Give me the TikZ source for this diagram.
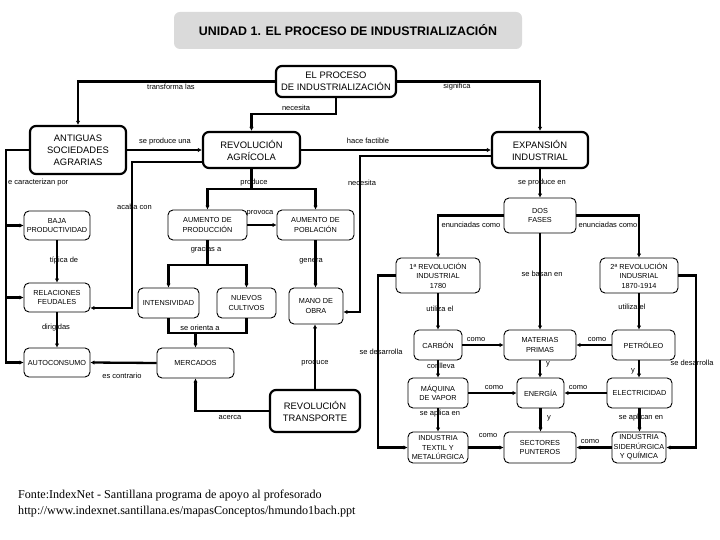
\documentclass[tikz,border=0pt]{standalone}
\usepackage{fontspec}
\setmainfont{Liberation Sans}
\newfontfamily\footfont{Liberation Serif}
\usetikzlibrary{arrows.meta,calc}
\definecolor{titlegray}{RGB}{218,218,218}
\begin{document}
\begin{tikzpicture}[x=1pt,y=-1pt,
  box/.style={draw, rounded corners=5pt, line width=0.9pt, align=center, inner sep=0pt, font=\fontsize{7.3}{9.5}\selectfont},
  bigbox/.style={draw, rounded corners=6pt, line width=2.2pt, align=center, inner sep=0pt, font=\fontsize{9.4}{12}\selectfont},
  conn/.style={line width=2.3pt},
  arr/.style={conn, -{Latex[length=4pt,width=4.5pt]}},
  lbl/.style={font=\fontsize{7.5}{9}\selectfont, inner sep=0pt}
]
\useasboundingbox[fill=white] (0,0) rectangle (720,540);

% title
\node[fill=titlegray, rounded corners=6pt, minimum width=348pt, minimum height=37pt, inner sep=0pt,
      font=\bfseries\fontsize{12.4}{14}\selectfont] (title) at (348,30.5) {UNIDAD 1. EL PROCESO DE INDUSTRIALIZACIÓN};

% thick boxes
\node[bigbox, minimum width=120pt, minimum height=31pt] (proc) at (336,81.5) {EL PROCESO\\DE INDUSTRIALIZACIÓN};
\node[bigbox, minimum width=96pt, minimum height=48pt] (ant) at (78,150) {ANTIGUAS\\SOCIEDADES\\AGRARIAS};
\node[bigbox, minimum width=97pt, minimum height=36pt] (ragr) at (251.5,150) {REVOLUCIÓN\\AGRÍCOLA};
\node[bigbox, minimum width=96pt, minimum height=36pt] (exp) at (540,150) {EXPANSIÓN\\INDUSTRIAL};
\node[bigbox, minimum width=90pt, minimum height=42pt] (rtra) at (315,411) {REVOLUCIÓN\\TRANSPORTE};

% thin boxes
\node[box, minimum width=72pt, minimum height=35pt] (dos) at (540,215.5) {DOS\\FASES};
\node[box, minimum width=79pt, minimum height=30pt] (aprod) at (207.5,225) {AUMENTO DE\\PRODUCCIÓN};
\node[box, minimum width=77pt, minimum height=30pt] (apob) at (315.5,225) {AUMENTO DE\\POBLACIÓN};
\node[box, minimum width=66pt, minimum height=29pt] (baja) at (57,225.5) {BAJA\\PRODUCTIVIDAD};
\node[box, minimum width=66pt, minimum height=29pt] (rel) at (57,297.5) {RELACIONES\\FEUDALES};
\node[box, minimum width=66pt, minimum height=29pt] (auto) at (57,362.5) {AUTOCONSUMO};
\node[box, minimum width=61pt, minimum height=30pt] (int) at (168.5,303) {INTENSIVIDAD};
\node[box, minimum width=59pt, minimum height=30pt] (nue) at (246.5,303) {NUEVOS\\CULTIVOS};
\node[box, minimum width=54pt, minimum height=36pt] (mano) at (316,306) {MANO DE\\OBRA};
\node[box, minimum width=77pt, minimum height=30pt] (merc) at (195.5,363) {MERCADOS};
\node[box, minimum width=84pt, minimum height=35pt] (r1) at (438,275.5) {1ª REVOLUCIÓN\\INDUSTRIAL\\1780};
\node[box, minimum width=78pt, minimum height=35pt] (r2) at (639,275.5) {2ª REVOLUCIÓN\\INDUSRIAL\\1870-1914};
\node[box, minimum width=48pt, minimum height=30pt] (carb) at (438,345) {CARBÓN};
\node[box, minimum width=72pt, minimum height=30pt] (mat) at (540,345) {MATERIAS\\PRIMAS};
\node[box, minimum width=63pt, minimum height=30pt] (pet) at (643.5,345) {PETRÓLEO};
\node[box, minimum width=60pt, minimum height=30pt] (maq) at (438,393) {MÁQUINA\\DE VAPOR};
\node[box, minimum width=47pt, minimum height=30pt] (ene) at (540.5,393) {ENERGÍA};
\node[box, minimum width=65pt, minimum height=30pt] (ele) at (639.5,393) {ELECTRICIDAD};
\node[box, minimum width=60pt, minimum height=31pt] (tex) at (438,447.5) {INDUSTRIA\\TEXTIL Y\\METALÚRGICA};
\node[box, minimum width=72pt, minimum height=31pt] (sec) at (540,447.5) {SECTORES\\PUNTEROS};
\node[box, minimum width=54pt, minimum height=31pt] (sid) at (639,447.5) {INDUSTRIA\\SIDERÚRGICA\\Y QUÍMICA};

% connectors
\draw[arr] (proc.west) -| (ant.north);
\draw[arr] (proc.east) -| (exp.north);
\draw[arr] (proc.south) -- (proc.south |- 0,114) -| (ragr.north);
\draw[arr] (ant.east) -- (ragr.west);
\draw[arr] (ragr.east) -- (exp.west);
\draw[arr] ([yshift=-6pt]exp.west) -| (360,312) -- (mano.east |- 0,312);
\draw[arr] (exp.south) -- (dos.north);
\coordinate (pj) at (ragr.south |- 0,189);
\draw[conn] (ragr.south) -- (pj);
\draw[arr] (pj) -| (aprod.north);
\draw[arr] (pj) -| (apob.north);
\draw[arr] (aprod.east) -- (apob.west);
\draw[arr] (ant.west) -- (ant.west -| 6,0) |- (auto.west);
\draw[arr] (baja.west -| 6,0) -- (baja.west);
\draw[arr] (rel.west -| 6,0) -- (rel.west);
\draw[arr] (baja.south) -- (rel.north);
\draw[arr] (rel.south) -- (auto.north);
\draw[arr] ([yshift=-12pt]ragr.west) -| (132,308) -- (rel.east |- 0,308);
\coordinate (gj) at (aprod.south |- 0,265);
\draw[conn] (aprod.south) -- (gj);
\draw[arr] (gj) -| (int.north);
\draw[arr] (gj) -| (nue.north);
\draw[conn] (int.south) |- (nue.south |- 0,333) -- (nue.south);
\draw[arr] (merc.north |- 0,333) -- (merc.north);
\draw[arr] (merc.west) -- (auto.east);
\draw[arr] (apob.south) -- (apob.south |- mano.north);
\draw[arr] (rtra.north) -- (rtra.north |- mano.south);
\draw[arr] (rtra.west) -| (merc.south);
\draw[arr] (dos.west) -| (r1.north);
\draw[arr] (dos.east) -| (r2.north);
\draw[arr] (dos.south) -- (mat.north);
\draw[arr] (r1.south) -- (carb.north);
\draw[arr] (r2.south) -- (r2.south |- pet.north);
\draw[arr] (carb.east) -- (mat.west);
\draw[arr] (pet.west) -- (mat.east);
\draw[arr] (r1.west) -| (378,447.5) -- (tex.west);
\draw[arr] (r2.east) -| (696,447.5) -- (sid.east);
\draw[arr] (carb.south) -- (maq.north);
\draw[arr] (mat.south) -- (mat.south |- ene.north);
\draw[arr] (r2.south |- pet.south) -- (r2.south |- ele.north);
\draw[arr] (maq.east) -- (ene.west);
\draw[arr] (ele.west) -- (ene.east);
\draw[arr] (maq.south) -- (tex.north);
\draw[arr] (ene.south) -- (ene.south |- sec.north);
\draw[arr] (ele.south) -- (ele.south |- sid.north);
\draw[arr] (tex.east) -- (sec.west);
\draw[arr] (sid.west) -- (sec.east);

% labels
\node[lbl] (l1) at (171,87) {transforma las};
\node[lbl] (l2) at (457,87) {significa};
\node[lbl] (l3) at (296,108) {necesita};
\node[lbl] (l4) at (165,142) {se produce una};
\node[lbl] (l5) at (368,141) {hace factible};
\node[lbl] (l6) at (362,183) {necesita};
\node[lbl] (l7) at (542,183) {se produce en};
\node[lbl] (l8) at (254,183) {produce};
\node[lbl, anchor=west] (l9) at (8,183) {e caracterizan por};
\node[lbl] (l10) at (134.5,207) {acaba con};
\node[lbl] (l11) at (260,213) {provoca};
\node[lbl] (l12) at (206,250) {gracias a};
\node[lbl] (l13) at (64,261) {típica de};
\node[lbl] (l14) at (311,261) {genera};
\node[lbl] (l15) at (56,328) {dirigidas};
\node[lbl] (l16) at (200,328) {se orienta a};
\node[lbl] (l17) at (122,376) {es contrario};
\node[lbl] (l18) at (315,363) {produce};
\node[lbl] (l19) at (230,418) {acerca};
\node[lbl] (l20) at (381,352) {se desarrolla};
\node[lbl] (l21) at (471,225) {enunciadas como};
\node[lbl] (l22) at (608,225) {enunciadas como};
\node[lbl] (l23) at (542,274) {se basan en};
\node[lbl] (l24) at (440,309) {utiliza el};
\node[lbl] (l25) at (632,307) {utiliza el};
\node[lbl] (l26) at (476,340) {como};
\node[lbl] (l27) at (597,340) {como};
\node[lbl] (l28) at (692,363) {se desarrolla};
\node[lbl] (l29) at (441,366) {conlleva};
\node[lbl] (l30) at (548,364) {y};
\node[lbl] (l31) at (633,371) {y};
\node[lbl] (l32) at (494,388) {como};
\node[lbl] (l33) at (578,388) {como};
\node[lbl] (l34) at (440,414) {se aplica en};
\node[lbl] (l35) at (549,418) {y};
\node[lbl] (l36) at (641,418) {se aplican en};
\node[lbl] (l37) at (488,436) {como};
\node[lbl] (l38) at (590,442) {como};

% footer
\node[anchor=west, align=left, inner sep=0pt, font=\footfont\fontsize{12.1}{16}\selectfont] (foot) at (18,504)
  {Fonte:IndexNet - Santillana programa de apoyo al profesorado\\http://www.indexnet.santillana.es/mapasConceptos/hmundo1bach.ppt};
\end{tikzpicture}
\end{document}
